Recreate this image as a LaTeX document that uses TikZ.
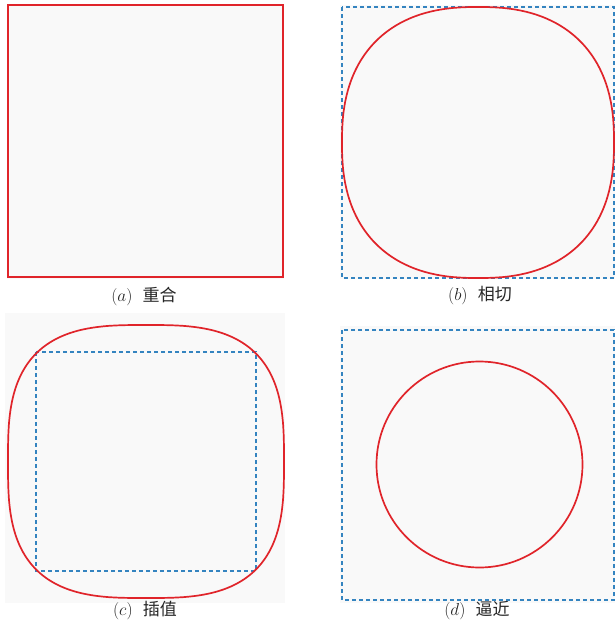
\documentclass[tikz,border=0pt]{standalone}
\usepackage{fontspec}
\newfontfamily\cjk{Noto Sans CJK SC}
\usetikzlibrary{positioning}
\definecolor{curvered}{RGB}{224,36,42}
\definecolor{boxblue}{RGB}{52,132,192}
\definecolor{panelgray}{RGB}{249,249,249}

\begin{document}
\begin{tikzpicture}[
        x=1pt, y=-1pt,
        panel/.style={fill=panelgray, draw=none},
        redline/.style={draw=curvered, line width=1.7pt},
        boxline/.style={draw=boxblue, line width=1.6pt, dash pattern=on 4pt off 3pt},
        caption/.style={font=\fontsize{17}{20}\selectfont, text=black!85, inner sep=0pt}
    ]
    \useasboundingbox (0,0) rectangle (615,627);

    % grey backgrounds
    \fill[panel] (7,4) rectangle (284,279);
    \fill[panel] (340,5) rectangle (615,279);
    \fill[panel] (5,313) rectangle (285,603);
    \fill[panel] (340,326) rectangle (615,603);

    % (a) coincide
    \draw[redline] (8,5) rectangle (283,277);

    % (b) tangent
    \draw[boxline] (342,7) rectangle (614,278);
    \draw[redline] plot[domain=0.5:360.5, samples=361, variable=\t]
        ({478+136*sign(cos(\t))*abs(cos(\t))^(2/2.4)},
         {142.5+135.5*sign(sin(\t))*abs(sin(\t))^(2/2.4)}) -- cycle;

    % (c) interpolate
    \draw[boxline] (36,352) rectangle (256,571);
    \draw[redline] plot[domain=0.5:360.5, samples=361, variable=\t]
        ({146+138*sign(cos(\t))*abs(cos(\t))^(2/3)},
         {461.5+136.5*sign(sin(\t))*abs(sin(\t))^(2/3)}) -- cycle;

    % (d) approximate
    \draw[boxline] (342,330) rectangle (614,600);
    \draw[redline] (479.5,464.5) circle[radius=103];

    \node[caption] (capA) at (144,296) {$(a)$\ \ \cjk 重合};
    \node[caption] (capB) at (480,296) {$(b)$\ \ \cjk 相切};
    \node[caption] (capC) at (145,611) {$(c)$\ \ \cjk 插值};
    \node[caption] (capD) at (477,611) {$(d)$\ \ \cjk 逼近};

\end{tikzpicture}
\end{document}
